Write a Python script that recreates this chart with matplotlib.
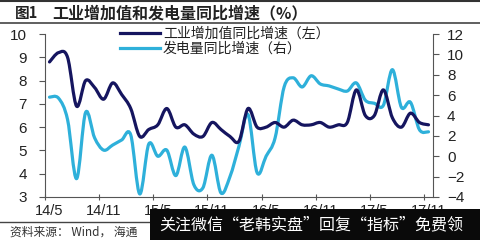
import matplotlib
matplotlib.use("Agg")
import matplotlib.pyplot as plt
from matplotlib.path import Path
from matplotlib.patches import PathPatch, Rectangle
from matplotlib.lines import Line2D
import numpy as np

plt.rcParams['font.family'] = ['Noto Sans CJK SC', 'DejaVu Sans']

# ---- data ----
months = ["14/5","14/6","14/7","14/8","14/9","14/10","14/11","14/12",
          "15/1","15/2","15/3","15/4","15/5","15/6","15/7","15/8","15/9","15/10","15/11","15/12",
          "16/1","16/2","16/3","16/4","16/5","16/6","16/7","16/8","16/9","16/10","16/11","16/12",
          "17/1","17/2","17/3","17/4","17/5","17/6","17/7","17/8","17/9","17/10","17/11"]
iva = [8.8, 9.2, 9.0, 6.9, 8.0, 7.7, 7.2, 7.9,
       7.4, 6.8, 5.6, 5.9, 6.1, 6.8, 6.0, 6.1, 5.7, 5.6, 6.2, 5.9,
       5.6, 5.4, 6.8, 6.0, 6.0, 6.2, 6.0, 6.3, 6.1, 6.1, 6.2, 6.0,
       6.1, 6.2, 7.6, 6.5, 6.5, 7.6, 6.4, 6.0, 6.6, 6.2, 6.1]
power = [5.8, 5.7, 3.6, -2.2, 4.3, 1.8, 0.6, 1.1,
         1.6, 2.1, -3.7, 1.2, 0.0, 0.6, -1.9, 0.9, -2.8, -3.1, 0.1, -3.6,
         -2.0, 1.0, 4.1, -1.6, 0.0, 1.8, 6.8, 7.7, 6.8, 7.9, 7.1, 6.9,
         6.6, 6.4, 7.2, 5.5, 5.2, 5.0, 8.5, 4.8, 5.3, 2.6, 2.4]
tick_labels = ["14/5", "14/11", "15/5", "15/11", "16/5", "16/11", "17/5", "17/11"]
label1 = "工业增加值同比增速（左）"
label2 = "发电量同比增速（右）"
title = "工业增加值和发电量同比增速（%）"
source = "资料来源： Wind， 海通"
banner = "关注微信“老韩实盘”回复“指标”免费领"

dark = "#15155f"
light = "#2eb0da"


def smooth_path(xs, ys):
    n = len(xs)
    verts = [(xs[0], ys[0])]
    codes = [Path.MOVETO]
    for i in range(n - 1):
        a = i - 1 if i > 0 else i
        d = i + 2 if i + 2 < n else i + 1
        c1 = (xs[i] + (xs[i + 1] - xs[a]) / 6.0, ys[i] + (ys[i + 1] - ys[a]) / 6.0)
        c2 = (xs[i + 1] - (xs[d] - xs[i]) / 6.0, ys[i + 1] - (ys[d] - ys[i]) / 6.0)
        verts += [c1, c2, (xs[i + 1], ys[i + 1])]
        codes += [Path.CURVE4] * 3
    return Path(verts, codes)


fig = plt.figure(figsize=(4.8, 2.4), dpi=100)
fig.patch.set_facecolor("white")
ax = fig.add_axes([45 / 480, 1 - 197 / 240, (433 - 45) / 480, (197 - 34) / 240])
ax2 = ax.twinx()
ax.set_zorder(ax2.get_zorder() + 1)
ax.patch.set_visible(False)

x = np.arange(len(months), dtype=float)
p1 = PathPatch(smooth_path(x, np.array(iva)), fill=False, edgecolor=dark, lw=2.3,
               capstyle="round", joinstyle="round")
ax.add_patch(p1)
p2 = PathPatch(smooth_path(x, np.array(power)), fill=False, edgecolor=light, lw=2.3,
               capstyle="round", joinstyle="round")
ax2.add_patch(p2)

ax.set_xlim(-0.5, len(months) - 0.5)
ax.set_ylim(3, 10)
ax2.set_ylim(-4, 12)
ax.set_yticks(range(3, 11))
ax2.set_yticks(range(-4, 13, 2))

major = [i - 0.5 for i in range(0, len(months), 6)]
ax.set_xticks(major)
ax.set_xticklabels([""] * len(major))
ax.set_xticks(list(range(0, len(months), 6)), minor=True)
ax.set_xticklabels(tick_labels, minor=True)
ax.tick_params(axis="x", which="major", direction="inout", length=5, width=0.8, color="#555555")
ax.tick_params(axis="x", which="minor", length=0, pad=5, labelsize=10.5, labelcolor="#222222")
for t in ax.get_xticklabels(minor=True):
    t.set_family(["Liberation Sans", "DejaVu Sans"])

ax.tick_params(axis="y", direction="out", length=4, width=0.8, color="#555555",
               pad=9, labelsize=11, labelcolor="#222222")
ax2.tick_params(axis="y", direction="out", length=4, width=0.8, color="#555555",
                pad=6, labelsize=11, labelcolor="#222222")
for t in ax.get_yticklabels() + ax2.get_yticklabels():
    t.set_family(["Liberation Sans", "DejaVu Sans"])

for a in (ax, ax2):
    a.spines["top"].set_visible(False)
    for s in ("left", "right", "bottom"):
        a.spines[s].set_color("#555555")
        a.spines[s].set_linewidth(0.8)
ax.spines["right"].set_visible(False)
ax2.spines["left"].set_visible(False)
ax2.spines["bottom"].set_visible(False)

handles = [Line2D([], [], color=dark, lw=2.3), Line2D([], [], color=light, lw=2.3)]
leg = ax.legend(handles, [label1, label2], loc="upper left",
                bbox_to_anchor=(120 / 480, 1 - 27 / 240), bbox_transform=fig.transFigure,
                frameon=False, fontsize=10, handlelength=2.9, handletextpad=0.2,
                labelspacing=0.05, borderpad=0, borderaxespad=0)
for t in leg.get_texts():
    t.set_color("#222222")

# header / footer
fig.add_artist(Line2D([0, 1], [1 - 0.8 / 240, 1 - 0.8 / 240], color="#333333", lw=1.5,
                      transform=fig.transFigure))
fig.text(15 / 480, 1 - 13 / 240, "图1", fontsize=10.5, fontweight="bold", va="center",
         ha="left", color="#222222")
fig.text(52 / 480, 1 - 13 / 240, title, fontsize=11.5, fontweight="bold", va="center",
         ha="left", color="#222222")
fig.add_artist(Line2D([0, 1], [1 - 22.5 / 240, 1 - 22.5 / 240], color="#444444", lw=1.2,
                      transform=fig.transFigure))
fig.add_artist(Line2D([0, 1], [1 - 221.5 / 240, 1 - 221.5 / 240], color="#444444", lw=1.0,
                      transform=fig.transFigure))
fig.text(10 / 480, 1 - 232 / 240, source, fontsize=8.5, va="center",
         ha="left", color="#333333")

# watermark banner
fig.add_artist(Rectangle((150 / 480, 0), 330 / 480, 31 / 240, transform=fig.transFigure,
                         facecolor="#0a0a0a", edgecolor="none", zorder=10))
fig.text(159 / 480, 1 - 225 / 240, banner, fontsize=11.5,
         va="center", ha="left", color="white", zorder=11)

fig.savefig("out.png", dpi=100, facecolor="white")
